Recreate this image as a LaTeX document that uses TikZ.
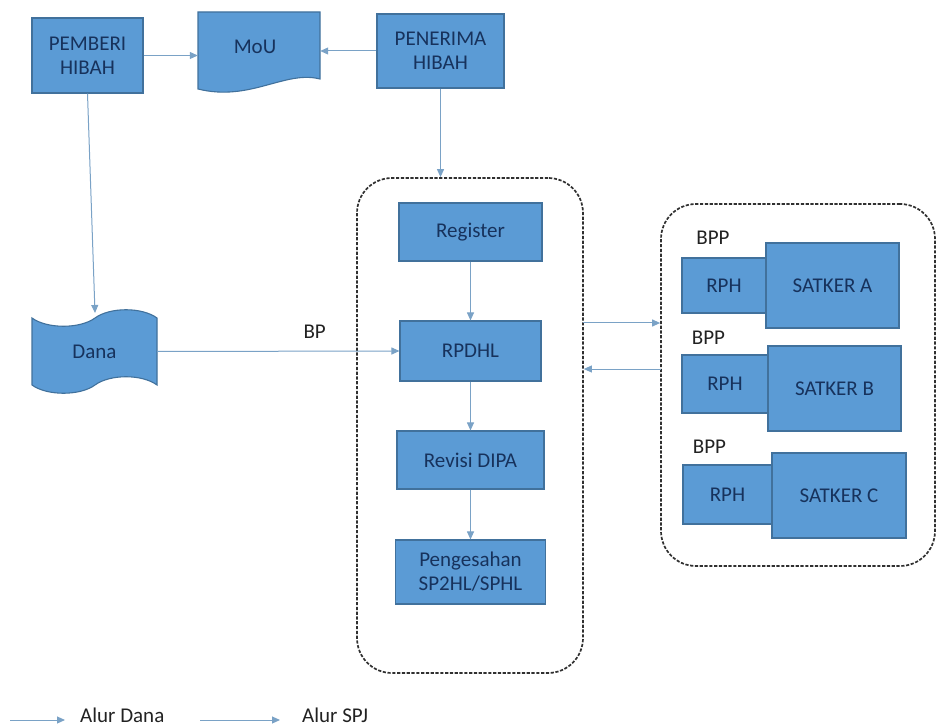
\documentclass[tikz,border=0pt]{standalone}
\usepackage{fontspec}
\setmainfont{Carlito}
\usetikzlibrary{arrows.meta}
\definecolor{boxfill}{HTML}{5B9BD5}
\definecolor{boxline}{HTML}{41719C}
\definecolor{boxtext}{HTML}{17325C}
\definecolor{arrcol}{HTML}{7AA2C6}
\definecolor{dashcol}{HTML}{303030}
\definecolor{lbltext}{HTML}{222222}
\begin{document}
\begin{tikzpicture}[x=1pt,y=-1pt,
  font=\fontsize{21}{24}\selectfont,
  blk/.style={draw=boxline, fill=boxfill, line width=1.1pt, text=boxtext,
    align=center, inner sep=0pt},
  shapefill/.style={draw=boxline, fill=boxfill, line width=1.1pt},
  anchorbox/.style={draw=none, inner sep=0pt, text=boxtext, align=center},
  arr/.style={draw=arrcol, line width=1pt, -{Triangle[length=8pt,width=7pt]}},
  dashbox/.style={draw=dashcol, line width=1.7pt, dash pattern=on 3.2pt off 1.6pt,
    rounded corners=35pt, inner sep=0pt, fill=none},
  lbl/.style={text=lbltext, inner sep=0pt}
]
\useasboundingbox (0,0) rectangle (937,727);

% top row
\node[blk, minimum width=111pt, minimum height=75pt] (pemberi) at (87.5,55.5) {PEMBERI\\HIBAH};
\draw[shapefill] (198,12) -- (320,12) -- (320,79)
  .. controls (285,70) and (250,102) .. (198,89) -- cycle;
\node[anchorbox, minimum width=122pt, minimum height=83pt] (mou) at (259,53.5) {};
\node[anchorbox] (moutext) at (255,47) {MoU};
\node[blk, minimum width=127pt, minimum height=74pt] (penerima) at (440.5,51) {PENERIMA\\HIBAH};

% Dana (punched tape)
\draw[shapefill] (32,318) .. controls (47,329) and (80,329) .. (95,318)
  .. controls (110,307) and (142,307) .. (157,318) -- (157,385)
  .. controls (142,374) and (110,374) .. (95,385)
  .. controls (80,396) and (47,396) .. (32,385) -- cycle;
\node[anchorbox, minimum width=125pt, minimum height=83pt] (dana) at (94.5,351.5) {Dana};
\coordinate (danatop) at (95,313);

% middle dashed group
\node[dashbox, minimum width=226pt, minimum height=495pt] (grp1) at (470,425.5) {};
\node[blk, minimum width=143pt, minimum height=58pt] (register) at (470.5,232) {Register};
\node[blk, minimum width=141pt, minimum height=60pt] (rpdhl) at (470.5,351) {RPDHL};
\node[blk, minimum width=147pt, minimum height=58pt] (revisi) at (470.5,460) {Revisi DIPA};
\node[blk, minimum width=150pt, minimum height=64pt] (pengesahan) at (470.5,572) {Pengesahan\\SP2HL/SPHL};

% right dashed group
\node[dashbox, minimum width=274pt, minimum height=362pt] (grp2) at (798,385) {};
\node[lbl] (bppa) at (713,238) {BPP};
\node[blk, minimum width=84pt, minimum height=55pt] (rpha) at (724,285.5) {RPH};
\node[blk, minimum width=133pt, minimum height=85pt] (satkera) at (832.5,285.5) {SATKER A};
\node[lbl] (bppb) at (708.5,338) {BPP};
\node[blk, minimum width=86pt, minimum height=58pt] (rphb) at (725,384) {RPH};
\node[blk, minimum width=133pt, minimum height=85pt] (satkerb) at (834.5,388.5) {SATKER B};
\node[lbl] (bppc) at (709.5,447) {BPP};
\node[blk, minimum width=89pt, minimum height=59pt] (rphc) at (727.5,494.5) {RPH};
\node[blk, minimum width=134pt, minimum height=85pt] (satkerc) at (839,495.5) {SATKER C};

% connectors
\draw[arr] (pemberi.east) -- (mou.west |- pemberi.east);
\draw[arr] (penerima.west) -- (mou.east |- penerima.west);
\draw[arr] (pemberi.south) -- (danatop);
\draw[arr] (penerima.south) -- (penerima.south |- grp1.north);
\draw[arr] (dana.east) -- node[lbl, pos=0.65, above=12pt] (bp) {BP} (rpdhl.west);
\draw[arr] (register.south) -- (rpdhl.north);
\draw[arr] (rpdhl.south) -- (revisi.north);
\draw[arr] (revisi.south) -- (pengesahan.north);
\coordinate (outA) at (583,323);
\coordinate (inA) at (661,369);
\draw[arr] (outA) -- (outA -| grp2.west);
\draw[arr] (inA) -- (inA -| grp1.east);

% legend
\coordinate (lg1a) at (10,720);
\coordinate (lg1b) at (65,720);
\coordinate (lg2a) at (200,720);
\coordinate (lg2b) at (280,720);
\draw[arr] (lg1a) -- (lg1b);
\node[lbl, anchor=west] (alurdana) at (80,715) {Alur Dana};
\draw[arr] (lg2a) -- (lg2b);
\node[lbl, anchor=west] (alurspj) at (302,715) {Alur SPJ};
\end{tikzpicture}
\end{document}
